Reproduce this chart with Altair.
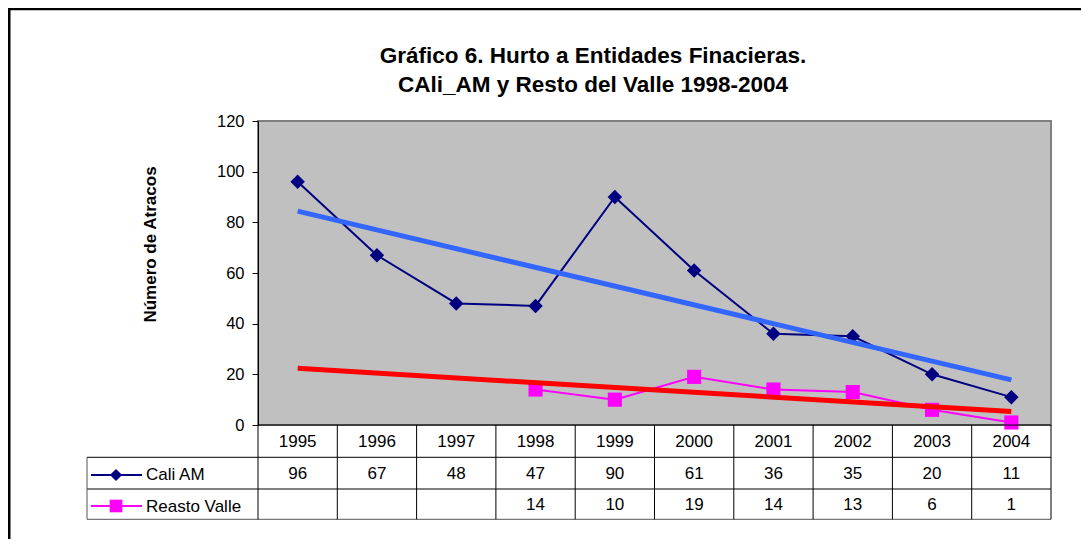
import altair as alt
import pandas as pd

# ---- data ----
years = [1995, 1996, 1997, 1998, 1999, 2000, 2001, 2002, 2003, 2004]
cali_am = [96, 67, 48, 47, 90, 61, 36, 35, 20, 11]
resto_valle = [None, None, None, 14, 10, 19, 14, 13, 6, 1]
series_names = ["Cali AM", "Reasto Valle"]
title_lines = ["Gráfico 6. Hurto a Entidades Finacieras.",
               "CAli_AM y Resto del Valle 1998-2004"]
y_title = "Número de Atracos"
y_ticks = [0, 20, 40, 60, 80, 100, 120]

FONT = "Liberation Sans"
W, H = 793, 304
NAVY, MAGENTA = "#000080", "#FF00FF"
TREND_BLUE, TREND_RED = "#3366FF", "#FF0000"

rows = []
for name, vals in zip(series_names, [cali_am, resto_valle]):
    for yr, v in zip(years, vals):
        if v is not None:
            rows.append({"year": yr, "series": name, "value": v})
df = pd.DataFrame(rows)
df_years = pd.DataFrame({"year": years})
df_bounds = pd.DataFrame({"year": [years[0] - 0.5 + k for k in range(len(years) + 1)]})
one = pd.DataFrame({"a": [0]})

xscale = alt.Scale(domain=[years[0] - 0.5, years[-1] + 0.5], nice=False, zero=False)
yscale = alt.Scale(domain=[0, 120], nice=False, zero=True)
X = alt.X("year:Q", scale=xscale, axis=None)
Y = alt.Y("value:Q", scale=yscale, axis=alt.Axis(
    values=y_ticks, grid=False, tickSize=6, tickColor="black", domainColor="black",
    labelFontSize=16.5, labelColor="black", labelPadding=8, labelFont=FONT,
    title=y_title, titleFont=FONT, titleFontSize=17, titleFontWeight="bold",
    titleColor="black", titleAngle=270, titleX=-108, titleY=123,
    titleAlign="center", titleBaseline="middle"))

base = alt.Chart(df)
cali = base.transform_filter(alt.datum.series == series_names[0])
resto = base.transform_filter(alt.datum.series == series_names[1])

layers = [
    cali.mark_line(color=NAVY, strokeWidth=2).encode(x=X, y=Y),
    cali.mark_point(shape="diamond", filled=True, size=210, color=NAVY, opacity=1).encode(x=X, y=Y),
    resto.mark_line(color=MAGENTA, strokeWidth=2).encode(x=X, y=Y),
    resto.mark_point(shape="square", filled=True, size=200, color=MAGENTA, opacity=1).encode(x=X, y=Y),
    base.transform_regression("year", "value", groupby=["series"],
                              extent=[years[0], years[-1]])
        .mark_line(strokeWidth=5)
        .encode(x=X, y=Y,
                color=alt.Color("series:N", legend=None,
                                scale=alt.Scale(domain=series_names,
                                                range=[TREND_BLUE, TREND_RED]))),
]

# ---- data table under the plot ----
def hrule(y, x1, x2, color="black", w=1):
    return alt.Chart(one).mark_rule(color=color, strokeWidth=w).encode(
        x=alt.value(x1), x2=alt.value(x2), y=alt.value(y))

def vrule(x, y1, y2, color="black", w=1):
    return alt.Chart(one).mark_rule(color=color, strokeWidth=w).encode(
        x=alt.value(x), y=alt.value(y1), y2=alt.value(y2))

layers += [
    hrule(H, 0, W),
    hrule(336.3, -171, W),
    hrule(368, -171, W),
    hrule(398.3, -171, W, color="#555555"),
    vrule(-171, 336.3, 398.3, color="#555555"),
    alt.Chart(df_bounds).mark_rule(color="black", strokeWidth=1).encode(
        x=alt.X("year:Q", scale=xscale, axis=None), y=alt.value(H), y2=alt.value(398.3)),
    alt.Chart(df_years).mark_text(font=FONT, fontSize=17, color="black", baseline="alphabetic").encode(
        x=alt.X("year:Q", scale=xscale, axis=None), y=alt.value(325.5), text=alt.Text("year:N")),
    cali.mark_text(font=FONT, fontSize=17, color="black", baseline="alphabetic").encode(
        x=X, y=alt.value(357.5), text=alt.Text("value:Q")),
    resto.mark_text(font=FONT, fontSize=17, color="black", baseline="alphabetic").encode(
        x=X, y=alt.value(389), text=alt.Text("value:Q")),
    # legend keys
    hrule(354, -167, -116, color=NAVY, w=2),
    alt.Chart(one).mark_point(shape="diamond", filled=True, size=150, color=NAVY, opacity=1).encode(
        x=alt.value(-142), y=alt.value(354)),
    hrule(385, -167, -116, color=MAGENTA, w=2),
    alt.Chart(one).mark_point(shape="square", filled=True, size=160, color=MAGENTA, opacity=1).encode(
        x=alt.value(-142), y=alt.value(385)),
    alt.Chart(one).mark_text(text=series_names[0], font=FONT, fontSize=17, color="black",
                             align="left", baseline="alphabetic").encode(
        x=alt.value(-112), y=alt.value(359)),
    alt.Chart(one).mark_text(text=series_names[1], font=FONT, fontSize=17, color="black",
                             align="left", baseline="alphabetic").encode(
        x=alt.value(-112), y=alt.value(390.5)),
    # title
    alt.Chart(one).mark_text(text=title_lines[0], font=FONT, fontSize=22.5, fontWeight="bold",
                             color="black", align="center", baseline="alphabetic").encode(
        x=alt.value(335), y=alt.value(-58)),
    alt.Chart(one).mark_text(text=title_lines[1], font=FONT, fontSize=22.5, fontWeight="bold",
                             color="black", align="center", baseline="alphabetic").encode(
        x=alt.value(335), y=alt.value(-29)),
    # outer frame
    vrule(-249, -113, 418, w=3),
    hrule(-112, -250, 823, w=2.5),
]

chart = alt.layer(*layers).properties(
    width=W, height=H,
    autosize=alt.AutoSizeParams(type="none"),
    padding={"left": 250, "top": 113, "right": 30, "bottom": 122},
    background="white",
).configure_view(fill="#C0C0C0", stroke="#808080", strokeWidth=2)

chart.save("out.html", embed_options={"renderer": "svg", "actions": False})
